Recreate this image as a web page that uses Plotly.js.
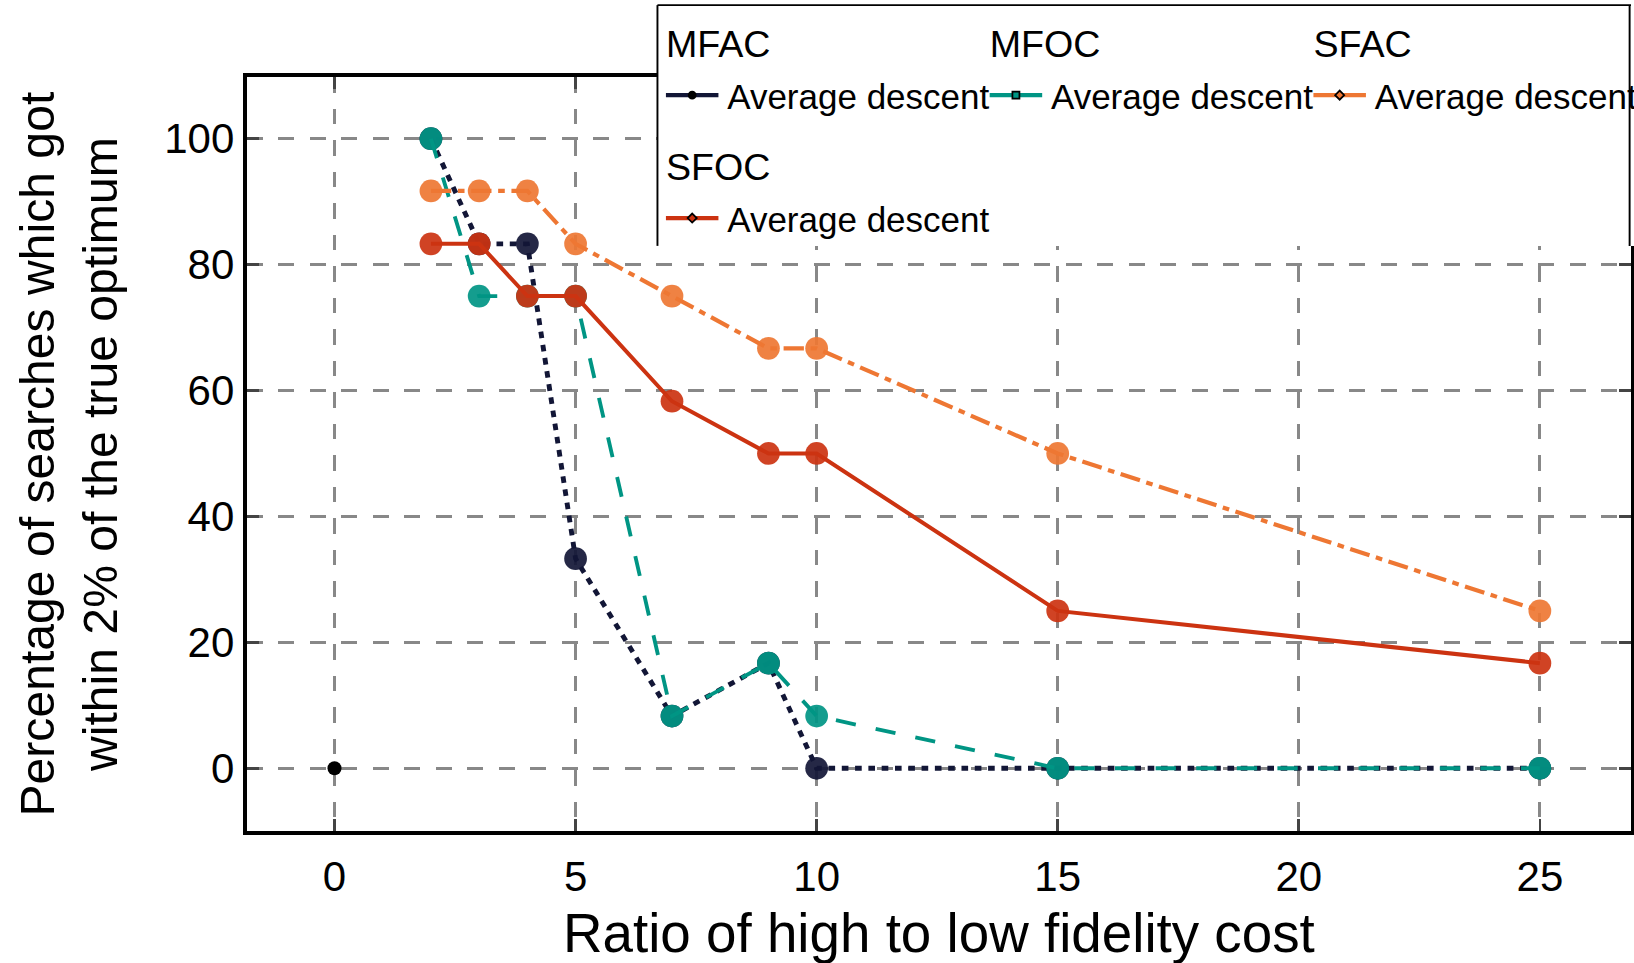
<!DOCTYPE html>
<html>
<head>
<meta charset="utf-8">
<script src="https://cdn.plot.ly/plotly-3.0.1.min.js"></script>
<style>
html, body { margin:0; padding:0; overflow:hidden; background:#ffffff; width:1634px; height:963px; }
#wrap { position:absolute; left:0; top:0; transform-origin:0 0; transform:scale(1.75); }
</style>
</head>
<body>
<div id="wrap"><div id="chart"></div></div>
<script>
// ---- data ----
const ratios = [2, 3, 4, 5, 7, 9, 10, 15, 25];
const mfac = [100, 83.3, 83.3, 33.3, 8.3, 16.7, 0, 0, 0];
const mfoc = [100, 75, 75, 75, 8.3, 16.7, 8.3, 0, 0];
const sfac = [91.7, 91.7, 91.7, 83.3, 75, 66.7, 66.7, 50, 25];
const sfoc = [83.3, 83.3, 75, 75, 58.3, 50, 50, 25, 16.7];
const refX = [0];
const refY = [0];
const groupNames = ['MFAC', 'MFOC', 'SFAC', 'SFOC'];
const entryName = 'Average descent';
const xTicks = [0, 5, 10, 15, 20, 25];
const yTicks = [0, 20, 40, 60, 80, 100];
const xTitle = 'Ratio of high to low fidelity cost';
const yTitle = 'Percentage of searches which got<br>within 2% of the true optimum';

// ---- styles ----
const FONT = 'Arial, "Liberation Sans", Helvetica, sans-serif';
const colors = ['#121636', '#009584', '#EE7733', '#CC3311'];
const dashes = ['3.8px,3.8px', '11.6px,11.6px', '11.6px,3.8px,3.8px,3.8px', 'solid'];
const widths = [2.8, 2.2, 2.4, 2.3];
const legendSymbols = ['circle', 'square', 'diamond', 'diamond'];
const legendIds = ['legend', 'legend', 'legend', 'legend2'];
const series = [mfac, mfoc, sfac, sfoc];

const traces = [];
series.forEach((ys, i) => {
  traces.push({
    x: ratios, y: ys, type: 'scatter', mode: 'lines+markers',
    showlegend: false, legendgroup: groupNames[i],
    line: { color: colors[i], width: widths[i], dash: dashes[i] },
    marker: { color: colors[i], size: 13, opacity: 0.92, line: { width: 0 } },
    hoverinfo: 'skip'
  });
});
traces.push({
  x: refX, y: refY, type: 'scatter', mode: 'markers', showlegend: false,
  marker: { color: 'black', size: 8 }, hoverinfo: 'skip'
});
// legend-only entries
groupNames.forEach((g, i) => {
  traces.push({
    x: [null], y: [null], type: 'scatter', mode: 'lines+markers',
    name: entryName, legend: legendIds[i], legendgroup: g,
    legendgrouptitle: { text: g, font: { size: 21.5, family: FONT, color: 'black' } },
    line: { color: colors[i], width: 2.4 },
    marker: { symbol: legendSymbols[i], size: 4, color: (i === 0 ? 'black' : colors[i]), line: { color: 'black', width: 1 } },
    showlegend: true
  });
});
// invisible spacer group so the first legend row is not clipped before the frame edge
traces.push({
  x: [null], y: [null], type: 'scatter', mode: 'lines', name: ' ',
  legend: 'legend', legendgroup: 'spacer', line: { width: 0, color: 'rgba(0,0,0,0)' }, showlegend: true
});

const axisCommon = {
  showgrid: true, gridcolor: '#888888', gridwidth: 1.7, griddash: 'dash',
  zeroline: false, showline: true, linecolor: 'black', linewidth: 2.3,
  mirror: 'ticks', ticks: 'inside', ticklen: 7, tickwidth: 1.5, tickcolor: '#444444',
  tickfont: { size: 24, family: FONT, color: 'black' }
};

const W = 934, H = 551;
const boxL = 0.2967, boxR = 1.0, boxTop = 1.0953, boxBot = 0.7761;
const legX = 0.2965;
const legendCommon = {
  orientation: 'h', traceorder: 'grouped', x: legX, xanchor: 'left', yanchor: 'top',
  bgcolor: 'rgba(0,0,0,0)', borderwidth: 0,
  font: { size: 20, family: FONT, color: 'black' },
  grouptitlefont: { size: 21.5, family: FONT, color: 'black' },
  tracegroupgap: 0
};
const layout = {
  width: W, height: H,
  margin: { l: 140.6, r: 2, t: 44, b: 75.6, autoexpand: false },
  paper_bgcolor: 'white', plot_bgcolor: 'white',
  font: { family: FONT, color: 'black', size: 20 },
  showlegend: true,
  xaxis: Object.assign({}, axisCommon, {
    range: [-1.82, 26.89], tickmode: 'array', tickvals: xTicks, ticktext: xTicks.map(String),
    ticklabelstandoff: 3,
    title: { text: xTitle, font: { size: 31.3, family: FONT, color: 'black' } }
  }),
  yaxis: Object.assign({}, axisCommon, {
    range: [-10, 109.8], tickmode: 'array', tickvals: yTicks, ticktext: yTicks.map(String),
    title: { text: yTitle, standoff: 18.5, font: { size: 27.5, family: FONT, color: 'black' } }
  }),
  legend: Object.assign({}, legendCommon, { y: 1.0930, entrywidth: 140 }),
  legend2: Object.assign({}, legendCommon, { y: 0.9300 }),
  shapes: [
    { type: 'rect', xref: 'paper', yref: 'paper', x0: boxL, x1: 1.01, y0: boxBot, y1: boxTop,
      fillcolor: 'white', line: { width: 0 }, layer: 'above' },
    { type: 'line', xref: 'paper', yref: 'paper', x0: boxL, x1: boxL, y0: boxBot, y1: boxTop,
      line: { color: 'black', width: 1.1 }, layer: 'above' },
    { type: 'line', xref: 'paper', yref: 'paper', x0: boxL, x1: boxR, y0: boxTop, y1: boxTop,
      line: { color: 'black', width: 1.1 }, layer: 'above' },
    { type: 'line', xref: 'paper', yref: 'paper', x0: boxR - 0.001, x1: boxR - 0.001, y0: boxBot, y1: boxTop,
      line: { color: 'black', width: 1.1 }, layer: 'above' }
  ]
};

Plotly.newPlot('chart', traces, layout, { staticPlot: true, displayModeBar: false });
</script>
</body>
</html>
